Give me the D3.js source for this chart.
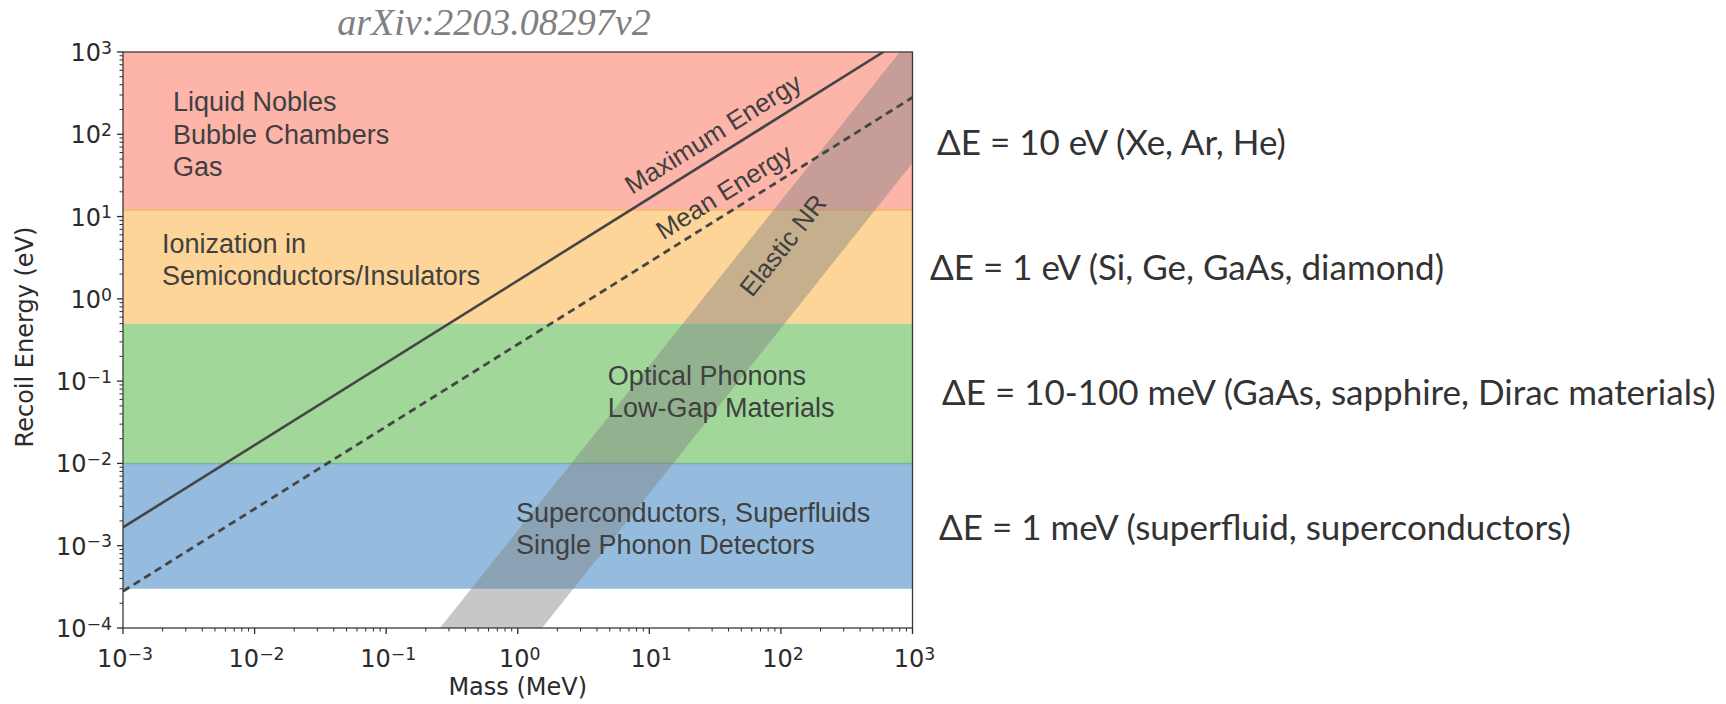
<!DOCTYPE html>
<html>
<head>
<meta charset="utf-8">
<script src="https://cdn.jsdelivr.net/npm/d3@7"></script>
<style>
  html, body { margin: 0; padding: 0; background: #ffffff; }
  svg { display: block; }
</style>
</head>
<body>
<svg id="chart" width="1726" height="704"></svg>
<script>
// ---- data ----------------------------------------------------------------
const massDomain = [1e-3, 1e3];          // MeV
const energyDomain = [1e-4, 1e3];        // eV
const xTickExponents = [-3, -2, -1, 0, 1, 2, 3];
const yTickExponents = [-4, -3, -2, -1, 0, 1, 2, 3];

// detector-threshold bands (eV)
const bandNames = ["nobles", "ionization", "optical", "phonon"];
const bandLow = [12, 0.5, 0.01, 3e-4];
const bandHigh = [1e3, 12, 0.5, 0.01];
const bandColors = ["#fdb4a9", "#fdd598", "#a1d899", "#95bcde"];
const bandLabels = [
  ["Liquid Nobles", "Bubble Chambers", "Gas"],
  ["Ionization in", "Semiconductors/Insulators"],
  ["Optical Phonons", "Low-Gap Materials"],
  ["Superconductors, Superfluids", "Single Phonon Detectors"]
];

// kinematic recoil-energy lines: [mass MeV, energy eV] end points
const maxEnergyMass = [1e-3, 600];
const maxEnergyValue = [1.67e-3, 1000];
const meanEnergyMass = [1e-3, 1e3];
const meanEnergyValue = [2.8e-4, 280];

// elastic nuclear-recoil band outline: [mass MeV, energy eV]
const elasticMass = [0.256, 800, 1000, 1000, 1.53];
const elasticEnergy = [1e-4, 1e3, 1e3, 44.8, 1e-4];

// threshold notes to the right of the plot
const noteTexts = [
  "ΔE = 10 eV (Xe, Ar, He)",
  "ΔE = 1 eV (Si, Ge, GaAs, diamond)",
  "ΔE = 10-100 meV (GaAs, sapphire, Dirac materials)",
  "ΔE = 1 meV (superfluid, superconductors)"
];

const sourceTag = "arXiv:2203.08297v2";

// ---- layout --------------------------------------------------------------
const plot = { left: 123, right: 912.5, top: 52, bottom: 628 };
const textColor = "#404040";

const svg = d3.select("#chart");
const x = d3.scaleLog().domain(massDomain).range([plot.left, plot.right]);
const y = d3.scaleLog().domain(energyDomain).range([plot.bottom, plot.top]);

const g = svg.append("g");

// clip to the axes box
svg.append("defs").append("clipPath").attr("id", "plotClip")
  .append("rect")
  .attr("x", plot.left).attr("y", plot.top)
  .attr("width", plot.right - plot.left).attr("height", plot.bottom - plot.top);

const area = g.append("g").attr("clip-path", "url(#plotClip)");

// coloured bands
area.selectAll("rect.band")
  .data(bandNames)
  .join("rect")
  .attr("class", "band")
  .attr("x", x(massDomain[0]))
  .attr("width", x(massDomain[1]) - x(massDomain[0]))
  .attr("y", (d, i) => y(bandHigh[i]))
  .attr("height", (d, i) => y(bandLow[i]) - y(bandHigh[i]))
  .attr("fill", (d, i) => bandColors[i]);

// band edges that show as thin lines
area.append("line")
  .attr("x1", x(massDomain[0])).attr("x2", x(massDomain[1]))
  .attr("y1", y(bandLow[0])).attr("y2", y(bandLow[0]))
  .attr("stroke", "#f8b46e").attr("stroke-width", 1.5);
area.append("line")
  .attr("x1", x(massDomain[0])).attr("x2", x(massDomain[1]))
  .attr("y1", y(bandLow[2])).attr("y2", y(bandLow[2]))
  .attr("stroke", "#6fb5a6").attr("stroke-width", 1.5);

// elastic NR band
const elasticPts = elasticMass.map((m, i) => [x(m), y(elasticEnergy[i])]);
area.append("path")
  .attr("d", d3.line()(elasticPts) + "Z")
  .attr("fill", "#808080")
  .attr("fill-opacity", 0.44);

// recoil-energy lines
const lineGen = d3.line();
area.append("path")
  .attr("d", lineGen(maxEnergyMass.map((m, i) => [x(m), y(maxEnergyValue[i])])))
  .attr("fill", "none").attr("stroke", "#454545").attr("stroke-width", 2.6);
area.append("path")
  .attr("d", lineGen(meanEnergyMass.map((m, i) => [x(m), y(meanEnergyValue[i])])))
  .attr("fill", "none").attr("stroke", "#454545").attr("stroke-width", 2.8)
  .attr("stroke-dasharray", "7.5,5");

// band labels (left edge, first baseline) in data coordinates
const bandLabelAnchor = [[2.4e-3, 190], [1.98e-3, 3.6], [4.84, 0.09], [0.97, 1.95e-3]];
const labelSize = 27, labelLead = 32.4;
bandLabels.forEach((lines, i) => {
  const t = g.append("text")
    .attr("x", x(bandLabelAnchor[i][0]))
    .attr("y", y(bandLabelAnchor[i][1]))
    .attr("font-family", "'Liberation Sans', Arial, sans-serif")
    .attr("font-size", labelSize)
    .attr("fill", textColor);
  lines.forEach((s, k) => {
    t.append("tspan")
      .attr("x", x(bandLabelAnchor[i][0]))
      .attr("dy", k === 0 ? 0 : labelLead)
      .text(s);
  });
});

// rotated labels that follow the lines
function slopeAngle(ms, es) {
  const dx = x(ms[1]) - x(ms[0]);
  const dy = y(es[1]) - y(es[0]);
  return Math.atan2(dy, dx) * 180 / Math.PI;
}
function interpLog(ms, es, m) {
  const t = (Math.log10(m) - Math.log10(ms[0])) / (Math.log10(ms[1]) - Math.log10(ms[0]));
  return Math.pow(10, Math.log10(es[0]) + t * (Math.log10(es[1]) - Math.log10(es[0])));
}
function lineLabel(text, ms, es, m, offset) {
  const px = x(m), py = y(interpLog(ms, es, m));
  g.append("text")
    .attr("transform", `translate(${px},${py}) rotate(${slopeAngle(ms, es)})`)
    .attr("y", offset)
    .attr("text-anchor", "middle")
    .attr("font-family", "'Liberation Sans', Arial, sans-serif")
    .attr("font-size", 26)
    .attr("fill", textColor)
    .text(text);
}
lineLabel("Maximum Energy", maxEnergyMass, maxEnergyValue, 37, -12);
lineLabel("Mean Energy", meanEnergyMass, meanEnergyValue, 44.5, -11);

// Elastic NR label along the band
{
  const ms = [elasticMass[0], elasticMass[1]], es = [elasticEnergy[0], elasticEnergy[1]];
  const m = 103, e = 4.5;
  g.append("text")
    .attr("transform", `translate(${x(m)},${y(e)}) rotate(${slopeAngle(ms, es)})`)
    .attr("text-anchor", "middle")
    .attr("dy", "0.36em")
    .attr("font-family", "'Liberation Sans', Arial, sans-serif")
    .attr("font-size", 26)
    .attr("fill", textColor)
    .text("Elastic NR");
}

// ---- axes ----------------------------------------------------------------
const axisColor = "#2b2b2b";
const axisFont = "'DejaVu Sans', sans-serif";
const tickSize = 24;

function minorValues(exps) {
  const out = [];
  for (let k = 0; k < exps.length - 1; k++) {
    for (let j = 2; j <= 9; j++) out.push(j * Math.pow(10, exps[k]));
  }
  return out;
}

const axes = g.append("g");

// x ticks
axes.selectAll("line.xmaj").data(xTickExponents).join("line")
  .attr("x1", d => x(Math.pow(10, d))).attr("x2", d => x(Math.pow(10, d)))
  .attr("y1", plot.bottom).attr("y2", plot.bottom + 6)
  .attr("stroke", axisColor).attr("stroke-width", 1.3);
axes.selectAll("line.xmin").data(minorValues(xTickExponents)).join("line")
  .attr("x1", d => x(d)).attr("x2", d => x(d))
  .attr("y1", plot.bottom).attr("y2", plot.bottom + 3.5)
  .attr("stroke", axisColor).attr("stroke-width", 1);
// y ticks
axes.selectAll("line.ymaj").data(yTickExponents).join("line")
  .attr("y1", d => y(Math.pow(10, d))).attr("y2", d => y(Math.pow(10, d)))
  .attr("x1", plot.left).attr("x2", plot.left - 6)
  .attr("stroke", axisColor).attr("stroke-width", 1.3);
axes.selectAll("line.ymin").data(minorValues(yTickExponents)).join("line")
  .attr("y1", d => y(d)).attr("y2", d => y(d))
  .attr("x1", plot.left).attr("x2", plot.left - 3.5)
  .attr("stroke", axisColor).attr("stroke-width", 1);

function powerLabel(sel, exp) {
  sel.append("tspan").text("10");
  sel.append("tspan")
    .attr("dy", "-0.42em")
    .attr("font-size", "0.72em")
    .text(exp < 0 ? "\u2212" + (-exp) : String(exp));
}

xTickExponents.forEach(e => {
  const t = axes.append("text")
    .attr("x", x(Math.pow(10, e)) + 2)
    .attr("y", plot.bottom + 39)
    .attr("text-anchor", "middle")
    .attr("font-family", axisFont)
    .attr("font-size", tickSize)
    .attr("fill", axisColor);
  powerLabel(t, e);
});
yTickExponents.forEach(e => {
  const t = axes.append("text")
    .attr("x", plot.left - 11)
    .attr("y", y(Math.pow(10, e)) + 9)
    .attr("text-anchor", "end")
    .attr("font-family", axisFont)
    .attr("font-size", tickSize)
    .attr("fill", axisColor);
  powerLabel(t, e);
});

// frame
axes.append("rect")
  .attr("x", plot.left).attr("y", plot.top)
  .attr("width", plot.right - plot.left).attr("height", plot.bottom - plot.top)
  .attr("fill", "none").attr("stroke", "#3a3a3a").attr("stroke-width", 1.3);

// axis titles
axes.append("text")
  .attr("x", (plot.left + plot.right) / 2)
  .attr("y", plot.bottom + 67)
  .attr("text-anchor", "middle")
  .attr("font-family", axisFont)
  .attr("font-size", 24)
  .attr("fill", axisColor)
  .text("Mass (MeV)");
axes.append("text")
  .attr("transform", `translate(${25},${(plot.top + plot.bottom) / 2 - 3}) rotate(-90)`)
  .attr("text-anchor", "middle")
  .attr("dy", "0.35em")
  .attr("font-family", axisFont)
  .attr("font-size", 24)
  .attr("fill", axisColor)
  .text("Recoil Energy (eV)");

// source tag above the plot
svg.append("text")
  .attr("x", 494).attr("y", 35)
  .attr("text-anchor", "middle")
  .attr("font-family", "'Liberation Serif', 'Times New Roman', serif")
  .attr("font-style", "italic")
  .attr("font-size", 38)
  .attr("fill", "#808080")
  .text(sourceTag);

// threshold notes
const noteX = [937, 930, 942, 939];
const noteY = [143, 268, 393, 528];
svg.selectAll("text.note").data(noteTexts).join("text")
  .attr("class", "note")
  .attr("x", (d, i) => noteX[i])
  .attr("y", (d, i) => noteY[i])
  .attr("dy", "0.35em")
  .attr("font-family", "Lato, 'Open Sans', sans-serif")
  .attr("font-size", 35)
  .attr("fill", "#333333")
  .text(d => d);
</script>
</body>
</html>
